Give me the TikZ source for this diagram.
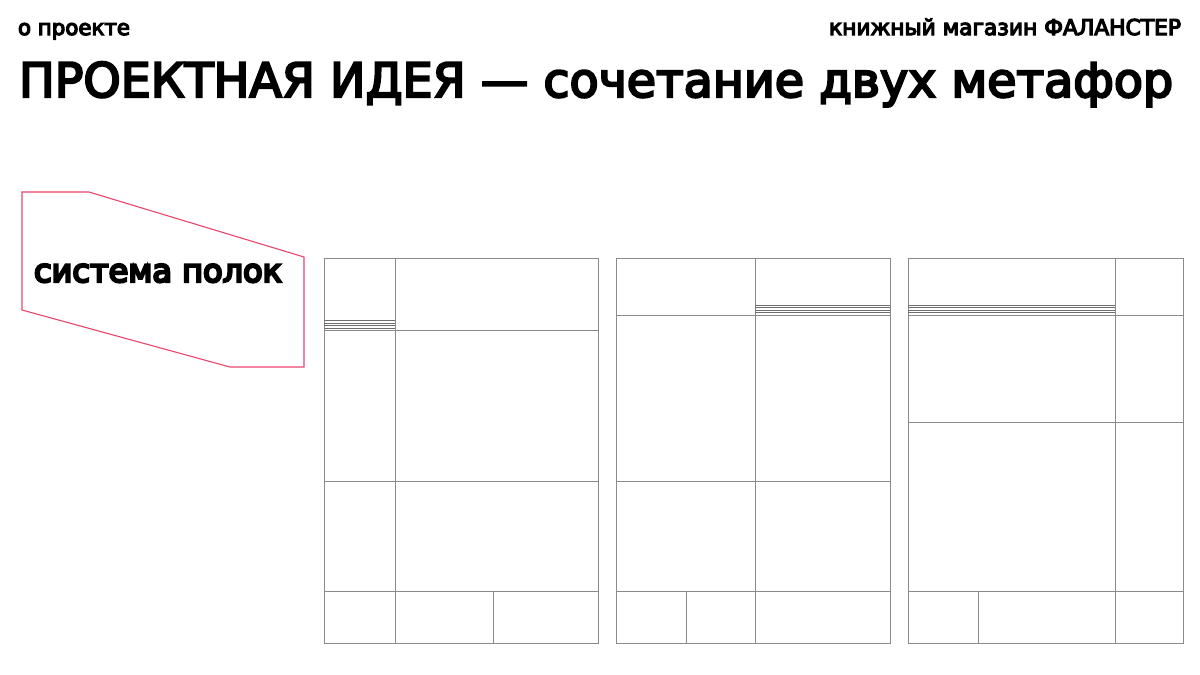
\documentclass[tikz,border=0pt]{standalone}
\usepackage{fontspec}
\setmainfont{DejaVu Sans}
\newcommand{\heavytext}[2]{\special{pdf:literal direct 2 Tr #1 w 0 G}#2\special{pdf:literal direct 0 Tr}}
\definecolor{accent}{HTML}{E8456B}
\definecolor{gridline}{HTML}{8A8A8A}
\tikzset{
  panel/.style={draw=gridline, line width=0.8pt},
  stripe/.style={draw=gridline!80!black, line width=0.6pt},
  tag/.style={draw=accent, line width=1.1pt, line join=miter},
  lbl/.style={inner sep=0pt, outer sep=0pt, text=black}
}
\begin{document}
\begin{tikzpicture}[x=1pt,y=-1pt]
\useasboundingbox (0,0) rectangle (1200,675);
% texts
\node[lbl, anchor=base west] (about) at (18,35) {\resizebox{112pt}{!}{\fontsize{20}{20}\selectfont\heavytext{1.1}{о проекте}}};
\node[lbl, anchor=base east] (shop) at (1181,35) {\resizebox{352pt}{!}{\fontsize{20}{20}\selectfont\heavytext{1.1}{книжный магазин ФАЛАНСТЕР}}};
\node[lbl, anchor=base west] (title) at (19,97) {\resizebox{1154pt}{!}{\fontsize{48}{48}\selectfont\heavytext{2.2}{ПРОЕКТНАЯ ИДЕЯ — сочетание двух метафор}}};
% red tag
\draw[tag] (22,192) -- (89,192) -- (304,257) -- (304,367) -- (230,367) -- (22,310) -- cycle;
\node[lbl, anchor=base west] (shelves) at (34,282) {\resizebox{248pt}{!}{\fontsize{30}{30}\selectfont\heavytext{2.2}{система полок}}};
% panel 1
\draw[panel] (324,258) rectangle (598,643);
\draw[panel] (395,258) -- (395,643);
\draw[panel] (324,330) -- (598,330);
\draw[panel] (324,481) -- (598,481);
\draw[panel] (324,591) -- (598,591);
\draw[panel] (493,591) -- (493,643);
\foreach \y in {320.5,323,325.5,328} \draw[stripe] (324,\y) -- (395,\y);
% panel 2
\draw[panel] (616,258) rectangle (890,643);
\draw[panel] (755,258) -- (755,643);
\draw[panel] (616,315) -- (890,315);
\draw[panel] (616,481) -- (890,481);
\draw[panel] (616,591) -- (890,591);
\draw[panel] (686,591) -- (686,643);
\foreach \y in {305,307.6,310.2,312.6} \draw[stripe] (755,\y) -- (890,\y);
% panel 3
\draw[panel] (908,258) rectangle (1183,643);
\draw[panel] (1115,258) -- (1115,643);
\draw[panel] (908,315) -- (1183,315);
\draw[panel] (908,422) -- (1183,422);
\draw[panel] (908,591) -- (1183,591);
\draw[panel] (978,591) -- (978,643);
\foreach \y in {305,307.6,310.2,312.6} \draw[stripe] (908,\y) -- (1115,\y);
\end{tikzpicture}
\end{document}
